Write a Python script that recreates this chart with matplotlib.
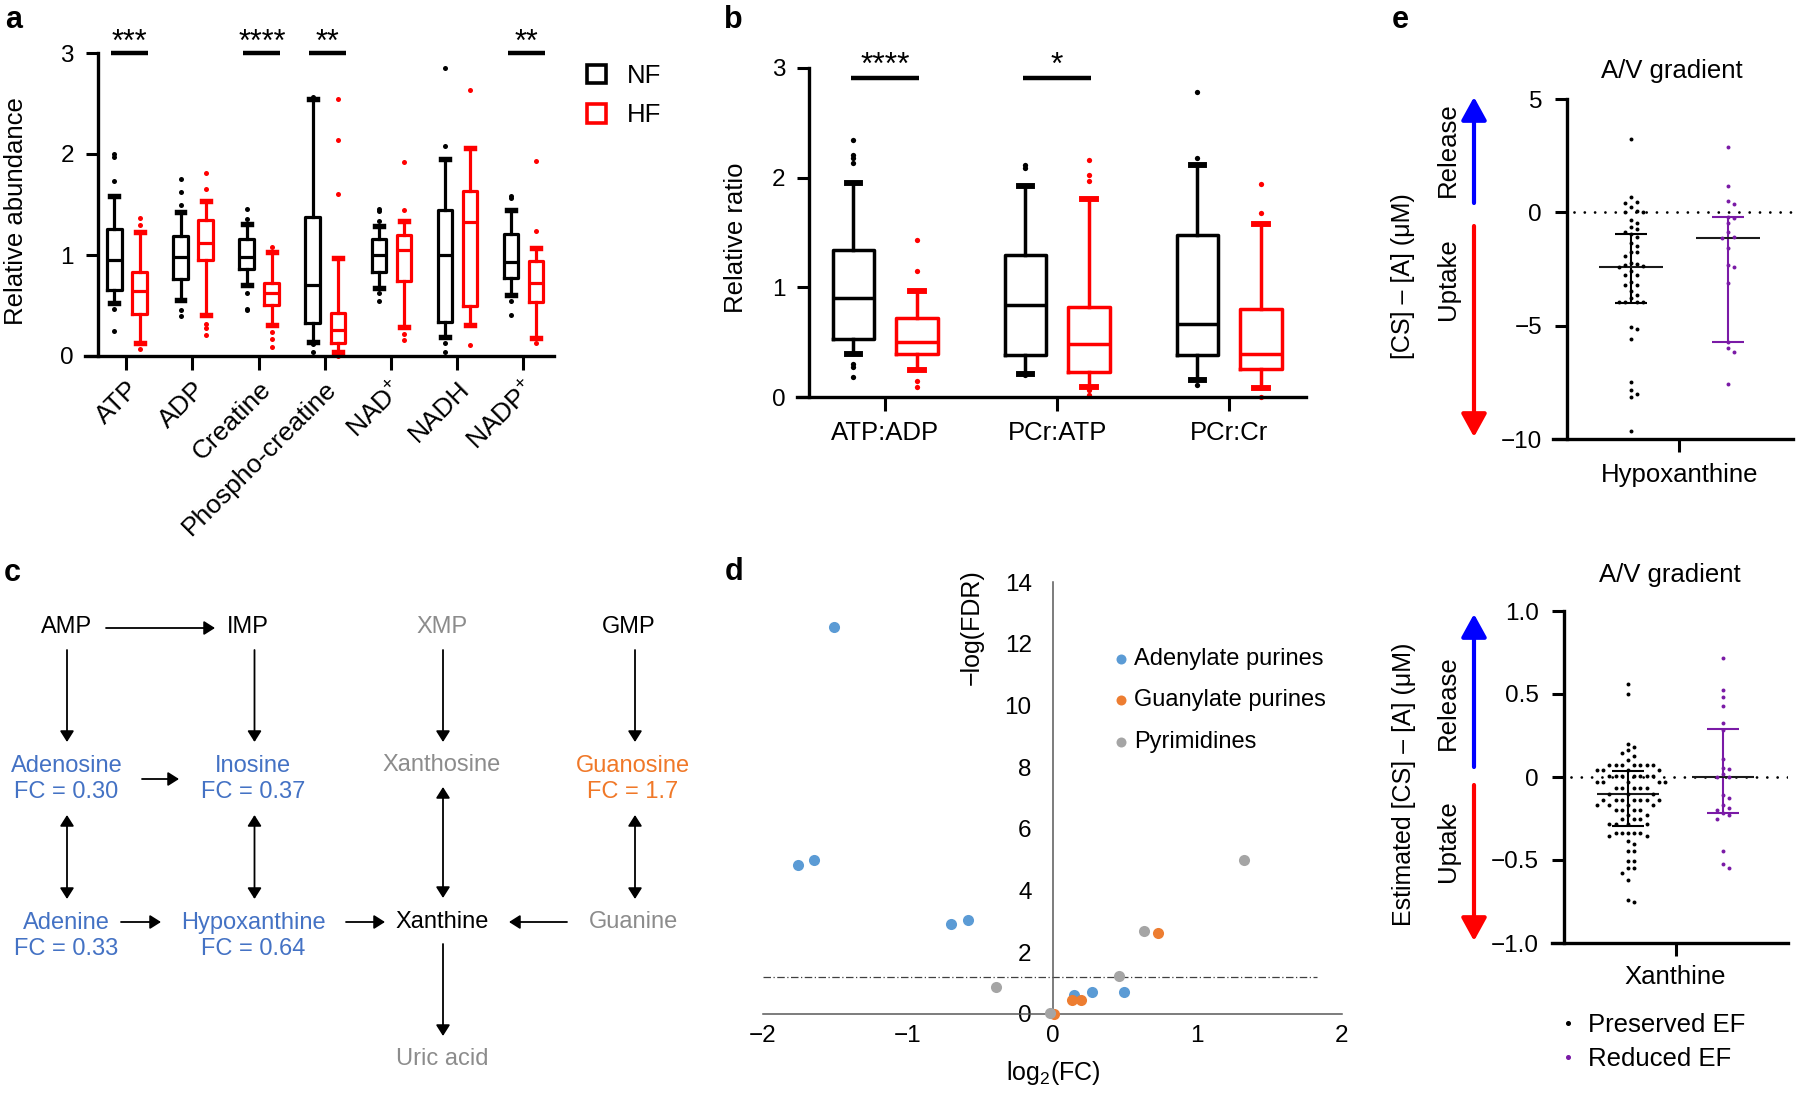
import numpy as np
import matplotlib
matplotlib.use('Agg')
import matplotlib.pyplot as plt
from matplotlib.patches import Patch, FancyArrowPatch
from matplotlib.lines import Line2D

plt.rcParams['font.family'] = ['Liberation Sans', 'DejaVu Sans']
plt.rcParams['mathtext.fontset'] = 'custom'
plt.rcParams['mathtext.rm'] = 'Liberation Sans'
plt.rcParams['mathtext.it'] = 'Liberation Sans:italic'
plt.rcParams['mathtext.bf'] = 'Liberation Sans:bold'
plt.rcParams['font.size'] = 17

# ---------------- data: panel a ----------------
a_labels = ['ATP', 'ADP', 'Creatine', 'Phospho-creatine', 'NAD$^{+}$', 'NADH', 'NADP$^{+}$']
a_nf_lo = [0.52, 0.555, 0.70, 0.14, 0.67, 0.19, 0.60]
a_nf_q1 = [0.654, 0.76, 0.86, 0.33, 0.836, 0.34, 0.776]
a_nf_med = [0.95, 0.98, 0.985, 0.70, 1.0, 1.0, 0.935]
a_nf_q3 = [1.255, 1.19, 1.156, 1.374, 1.156, 1.447, 1.206]
a_nf_hi = [1.58, 1.43, 1.31, 2.54, 1.29, 1.95, 1.447]
a_nf_out = [[2.0, 1.97, 1.73, 0.47, 0.25], [1.75, 1.62, 1.5, 0.456, 0.4],
            [1.46, 1.36, 0.62, 0.47, 0.46], [2.56, 0.125, 0.12, 0.04],
            [1.46, 1.44, 1.34, 0.62, 0.54], [2.85, 2.08, 0.125, 0.04],
            [1.58, 1.56, 0.54, 0.41]]
a_hf_lo = [0.125, 0.406, 0.307, 0.04, 0.29, 0.307, 0.175]
a_hf_q1 = [0.416, 0.95, 0.505, 0.125, 0.743, 0.5, 0.53]
a_hf_med = [0.64, 1.12, 0.62, 0.26, 1.05, 1.33, 0.727]
a_hf_q3 = [0.836, 1.35, 0.727, 0.43, 1.2, 1.63, 0.94]
a_hf_hi = [1.23, 1.53, 1.03, 0.97, 1.34, 2.06, 1.07]
a_hf_out = [[1.37, 1.3, 0.066], [1.81, 1.65, 0.32, 0.275, 0.21],
            [1.08, 0.24, 0.165, 0.09], [2.54, 2.14, 1.6, 0.01, 0.0],
            [1.92, 1.45, 0.22, 0.16], [2.63, 0.11], [1.93, 1.24, 0.125]]
a_sig_idx = [0, 2, 3, 6]
a_sig_txt = ['***', '****', '**', '**']

# ---------------- data: panel b ----------------
b_labels = ['ATP:ADP', 'PCr:ATP', 'PCr:Cr']
b_nf_lo = [0.39, 0.207, 0.152]
b_nf_q1 = [0.533, 0.38, 0.38]
b_nf_med = [0.90, 0.84, 0.664]
b_nf_q3 = [1.34, 1.295, 1.477]
b_nf_hi = [1.95, 1.92, 2.12]
b_nf_out = [[2.34, 2.21, 2.18, 2.13, 0.30, 0.27, 0.18], [2.12, 2.09, 0.2], [2.78, 2.18, 0.107]]
b_hf_lo = [0.244, 0.09, 0.085]
b_hf_q1 = [0.39, 0.228, 0.259]
b_hf_med = [0.50, 0.487, 0.39]
b_hf_q3 = [0.716, 0.82, 0.80]
b_hf_hi = [0.966, 1.81, 1.58]
b_hf_out = [[1.43, 1.15, 0.15, 0.09], [2.16, 2.02, 1.97, 0.067, 0.015], [1.94, 1.68, 0.0]]
b_sig_idx = [0, 1]
b_sig_txt = ['****', '*']

# ---------------- data: panel c ----------------
c_names = ['AMP', 'IMP', 'XMP', 'GMP',
           'Adenosine', 'Inosine', 'Xanthosine', 'Guanosine',
           'Adenine', 'Hypoxanthine', 'Xanthine', 'Guanine', 'Uric acid']
c_fc = ['', '', '', '', '0.30', '0.37', '', '1.7', '0.33', '0.64', '', '', '']
c_kind = ['k', 'k', 'g', 'k', 'b', 'b', 'g', 'o', 'b', 'b', 'k', 'g', 'g']

# ---------------- data: panel d ----------------
d_aden_x = [-1.507, -1.76, -1.65, -0.704, -0.583, 0.149, 0.276, 0.493]
d_aden_y = [12.54, 4.84, 4.98, 2.91, 3.06, 0.62, 0.70, 0.71]
d_guan_x = [0.132, 0.197, 0.732, 0.008]
d_guan_y = [0.45, 0.45, 2.64, 0.0]
d_pyr_x = [-0.39, -0.02, 0.462, 0.634, 1.324]
d_pyr_y = [0.87, 0.03, 1.22, 2.69, 4.98]
d_thresh = 1.2

# ---------------- data: panel e ----------------
hyp_pres = [3.22, 0.66, 0.45, 0.42, 0.22, 0.05, 0.03, 0.02, -0.34, -0.48, -0.66, -0.75,
            -0.88, -0.95, -1.1, -1.37, -1.49, -1.76, -1.76, -1.91, -2.22, -2.28, -2.32,
            -2.38, -2.42, -2.6, -2.76, -2.76, -3.06, -3.2, -3.2, -3.45, -3.65, -3.76,
            -3.94, -3.95, -3.96, -3.97, -5.05, -5.15, -5.58, -7.5, -7.84, -8.0, -8.14, -9.63]
hyp_red = [2.9, 1.16, 0.5, 0.37, -0.2, -0.25, -0.48, -0.88, -1.08, -1.12, -1.57,
           -2.32, -2.39, -3.1, -5.7, -6.0, -6.15, -7.57]
hyp_med = [-2.40, -1.12]
hyp_q1 = [-4.01, -5.71]
hyp_q3 = [-0.96, -0.21]

xan_pres = [0.56, 0.50, 0.20, 0.18, 0.16, 0.144, 0.124, 0.104,
            0.074, 0.074, 0.074, 0.074, 0.074, 0.074, 0.074,
            0.04, 0.04, 0.04, 0.04,
            0.005, 0.005, 0.005, 0.005, 0.005, 0.005, 0.005,
            -0.03, -0.03, -0.03, -0.03, -0.03,
            -0.066, -0.066, -0.066, -0.066, -0.066,
            -0.10, -0.10, -0.10,
            -0.136, -0.136, -0.136, -0.136, -0.136, -0.136, -0.136,
            -0.17, -0.17, -0.17, -0.17,
            -0.196, -0.196, -0.196, -0.196,
            -0.226, -0.226, -0.256, -0.256, -0.256,
            -0.286, -0.286, -0.286, -0.286,
            -0.336, -0.336, -0.336, -0.336, -0.336, -0.356, -0.356,
            -0.386, -0.406, -0.446, -0.446, -0.506, -0.506, -0.546, -0.546,
            -0.576, -0.62, -0.74, -0.75]
xan_red = [0.715, 0.527, 0.483, 0.427, 0.328, 0.286, 0.11, 0.056, 0.05, 0.016, 0.0, 0.0,
           -0.11, -0.129, -0.167, -0.187, -0.197, -0.217, -0.231, -0.25, -0.444, -0.523, -0.55]
xan_med = [-0.10, 0.0]
xan_q1 = [-0.294, -0.215]
xan_q3 = [0.035, 0.288]

# ---------------- figure ----------------
W, H = 1800, 1097
fig = plt.figure(figsize=(W / 100, H / 100), dpi=100)

RED = '#ff0000'
PURPLE = '#7a1aa6'


def px_axes(l, t, r, b):
    return fig.add_axes([l / W, 1 - b / H, (r - l) / W, (b - t) / H])


def ftext(x, y, s, **kw):
    return fig.text(x / W, 1 - y / H, s, **kw)


def make_stats(lo, q1, med, q3, hi, out):
    return [dict(whislo=a, q1=b, med=c, q3=d, whishi=e, fliers=np.array(f))
            for a, b, c, d, e, f in zip(lo, q1, med, q3, hi, out)]


def draw_boxes(ax, stats, pos, color, width, capw, lw, ms):
    art = ax.bxp(stats, positions=pos, widths=width, capwidths=capw, showfliers=True,
                 boxprops=dict(color=color, lw=lw), whiskerprops=dict(color=color, lw=lw),
                 capprops=dict(color=color, lw=lw * 1.7), medianprops=dict(color=color, lw=lw),
                 flierprops=dict(marker='o', markerfacecolor=color, markeredgecolor='none',
                                 markersize=ms), manage_ticks=False)
    for k in art:
        for a in art[k]:
            a.set_clip_on(False)


def prism_axes(ax, spine_frac):
    for s in ['top', 'right']:
        ax.spines[s].set_visible(False)
    ax.spines['left'].set_position(('axes', spine_frac))
    for s in ['left', 'bottom']:
        ax.spines[s].set_linewidth(2.4)
    ax.tick_params(width=2.2, length=9, direction='out')


# ---------------- panel a ----------------
ax_a = px_axes(85, 53, 554, 356)
xa = np.arange(len(a_labels))
draw_boxes(ax_a, make_stats(a_nf_lo, a_nf_q1, a_nf_med, a_nf_q3, a_nf_hi, a_nf_out),
           xa - 0.18, 'k', 0.22, 0.12, 2.3, 3.6)
draw_boxes(ax_a, make_stats(a_hf_lo, a_hf_q1, a_hf_med, a_hf_q3, a_hf_hi, a_hf_out),
           xa + 0.2, RED, 0.22, 0.12, 2.3, 3.6)
ax_a.set_xlim(-0.625, 6.47)
ax_a.set_ylim(0, 3)
prism_axes(ax_a, 12.6 / 469)
ax_a.set_yticks([0, 1, 2, 3])
ax_a.tick_params(axis='y', labelsize=17.5, pad=8)
ax_a.set_xticks(xa)
ax_a.set_xticklabels(a_labels, fontsize=19, rotation=45, ha='right', rotation_mode='anchor')
ax_a.tick_params(axis='x', length=10, pad=5)
for i, t in zip(a_sig_idx, a_sig_txt):
    ax_a.plot([i - 0.23, i + 0.33], [3, 3], color='k', lw=3.2, clip_on=False, solid_capstyle='butt')
    ax_a.text(i + 0.05, 3.02, t, ha='center', va='baseline', fontsize=22, clip_on=False)
ftext(16, 211, 'Relative abundance', rotation=90, ha='center', va='center', fontsize=18.5)
ax_a.legend(handles=[Patch(facecolor='white', edgecolor='k', lw=2.6, label='NF'),
                     Patch(facecolor='white', edgecolor=RED, lw=2.6, label='HF')],
            loc='upper left', bbox_to_anchor=(587 / W, 1 - 64 / H), bbox_transform=fig.transFigure,
            frameon=False, fontsize=18.5, handlelength=0.75, handleheight=0.75,
            handletextpad=0.8, labelspacing=0.6, borderpad=0, borderaxespad=0)

# ---------------- panel b ----------------
ax_b = px_axes(797, 68, 1306, 397)
xb = np.arange(len(b_labels))
draw_boxes(ax_b, make_stats(b_nf_lo, b_nf_q1, b_nf_med, b_nf_q3, b_nf_hi, b_nf_out),
           xb - 0.184, 'k', 0.24, 0.08, 2.5, 3.8)
draw_boxes(ax_b, make_stats(b_hf_lo, b_hf_q1, b_hf_med, b_hf_q3, b_hf_hi, b_hf_out),
           xb + 0.186, RED, 0.24, 0.08, 2.5, 3.8)
ax_b.set_xlim(-0.512, 2.447)
ax_b.set_ylim(0, 3)
prism_axes(ax_b, 11.8 / 509)
ax_b.set_yticks([0, 1, 2, 3])
ax_b.tick_params(axis='y', labelsize=17.5, pad=8)
ax_b.set_xticks(xb)
ax_b.set_xticklabels(b_labels, fontsize=18.5)
ax_b.tick_params(axis='x', length=10, pad=7)
for i, t in zip(b_sig_idx, b_sig_txt):
    ax_b.plot([i - 0.2, i + 0.2], [2.91, 2.91], color='k', lw=3.2, clip_on=False, solid_capstyle='butt')
    ax_b.text(i, 2.95, t, ha='center', va='baseline', fontsize=23, clip_on=False)
ftext(736, 238, 'Relative ratio', rotation=90, ha='center', va='center', fontsize=18.5)

# ---------------- panel c (pathway diagram) ----------------
ax_c = px_axes(0, 540, 700, 1097)
ax_c.set_xlim(0, 700)
ax_c.set_ylim(1097, 540)
ax_c.axis('off')
col_x = [66.5, 253, 442, 633]
row_y = [627, 779, 936, 1059]
node_xy = [(col_x[0], row_y[0]), (col_x[1] - 5, row_y[0]), (col_x[2], row_y[0]), (col_x[3] - 4, row_y[0]),
           (col_x[0], row_y[1]), (col_x[1], row_y[1]), (col_x[2], row_y[1]), (col_x[3], row_y[1]),
           (col_x[0], row_y[2]), (col_x[1], row_y[2]), (col_x[2], row_y[2]), (col_x[3], row_y[2]),
           (col_x[2], row_y[3])]
kind_color = {'k': 'black', 'g': '#8c8c8c', 'b': '#4472c4', 'o': '#f07828'}
for (x, y), name, fc, k in zip(node_xy, c_names, c_fc, c_kind):
    col = kind_color[k]
    if fc:
        ax_c.text(x, y - 13, name, ha='center', va='center', color=col, fontsize=17)
        ax_c.text(x, y + 13, 'FC = ' + fc, ha='center', va='center', color=col, fontsize=17)
    elif y in (row_y[1], row_y[2]):
        ax_c.text(x, y - 14, name, ha='center', va='center', color=col, fontsize=17)
    else:
        ax_c.text(x, y, name, ha='center', va='center', color=col, fontsize=17)


def c_arrow(p0, p1, style='-|>'):
    ax_c.annotate('', xy=p1, xytext=p0,
                  arrowprops=dict(arrowstyle=style + ',head_length=0.6,head_width=0.38',
                                  mutation_scale=11, lw=1.3, color='k', shrinkA=0, shrinkB=0))


arrow_x = [67, 254.5, 443, 635]
c_arrow((106, 628), (215, 628))
for x in arrow_x:
    c_arrow((x, 650), (x, 742))
c_arrow((142, 779), (179, 779))
for x in [arrow_x[0], arrow_x[1], arrow_x[3]]:
    c_arrow((x, 815), (x, 899), '<|-|>')
c_arrow((arrow_x[2], 787), (arrow_x[2], 898), '<|-|>')
c_arrow((121, 922), (161, 922))
c_arrow((346, 922), (385, 922))
c_arrow((567, 922), (509, 922))
c_arrow((arrow_x[2], 944), (arrow_x[2], 1036))

# ---------------- panel d (volcano) ----------------
ax_d = px_axes(763, 582, 1342, 1014)
ax_d.scatter(d_aden_x, d_aden_y, s=64, color='#5b9bd5', lw=0, clip_on=False, zorder=3,
             label='Adenylate purines')
ax_d.scatter(d_guan_x, d_guan_y, s=64, color='#ed7d31', lw=0, clip_on=False, zorder=3,
             label='Guanylate purines')
ax_d.scatter(d_pyr_x, d_pyr_y, s=64, color='#a5a5a5', lw=0, clip_on=False, zorder=3,
             label='Pyrimidines')
ax_d.plot([-2, 1.83], [d_thresh, d_thresh], color='#404040', lw=0.9, ls=(0, (6, 2, 1, 2)))
ax_d.set_xlim(-2, 2)
ax_d.set_ylim(0, 14)
for s in ['top', 'right']:
    ax_d.spines[s].set_visible(False)
ax_d.spines['left'].set_position(('data', 0))
for s in ['left', 'bottom']:
    ax_d.spines[s].set_color('#595959')
    ax_d.spines[s].set_linewidth(1.1)
ax_d.set_yticks(np.arange(0, 15, 2))
ax_d.set_xticks([-2, -1, 0, 1, 2])
ax_d.tick_params(axis='y', length=0, pad=15, labelsize=17.5)
ax_d.tick_params(axis='x', length=0, pad=8, labelsize=17.5)
ftext(972, 627, '\u2212log(FDR)', rotation=90, ha='center', va='center', fontsize=18)
ftext(1053, 1073, 'log$_2$(FC)', ha='center', va='center', fontsize=18)
ax_d.legend(loc='upper left', bbox_to_anchor=(1112 / W, 1 - 648 / H), bbox_transform=fig.transFigure,
            frameon=False, fontsize=17, handlelength=0.8, handletextpad=0.15,
            labelspacing=0.82, borderpad=0, borderaxespad=0, markerscale=0.9)


# ---------------- panel e ----------------
def swarm_offsets(vals, xpx, ypx, d=6.0):
    vals = np.asarray(vals, float)
    order = np.argsort(-vals)
    placed = []
    offs = np.zeros(len(vals))
    for i in order:
        y = vals[i] * ypx
        k = 0
        while True:
            cand = ((k + 1) // 2) * d * (1 if k % 2 == 1 else -1)
            if all((cand - px) ** 2 + (y - py) ** 2 >= (0.97 * d) ** 2 for px, py in placed):
                break
            k += 1
        placed.append((cand, y))
        offs[i] = cand / xpx
    return offs


def e_panel(ax, groups, med, q1, q3, xpx, ypx, spine_frac, d):
    colors = ['k', PURPLE]
    ax.axhline(0, xmin=spine_frac + 0.03, xmax=1, color='k', lw=2.0,
               ls=(0, (0.01, 3.7)), dash_capstyle='round', zorder=1)
    for p, vals in enumerate(groups):
        c = colors[p]
        ax.vlines(p, q1[p], q3[p], color=c, lw=1.5, zorder=2)
        ax.hlines([q1[p], q3[p]], p - 0.165, p + 0.165, color=c, lw=1.5, zorder=2)
        ax.hlines(med[p], p - 0.33, p + 0.33, color='#1a1a1a', lw=1.5, zorder=2)
        ax.scatter(p + swarm_offsets(vals, xpx, ypx, d), vals, s=8, color=c, lw=0,
                   zorder=3, clip_on=False)
    prism_axes(ax, spine_frac)
    ax.tick_params(axis='x', length=9, pad=8, labelsize=18.5)
    ax.tick_params(axis='y', length=9, pad=9, labelsize=17.5)


ax_e1 = px_axes(1553, 99, 1793, 439)
e_panel(ax_e1, [hyp_pres, hyp_red], hyp_med, hyp_q1, hyp_q3, 97, 22.67, 14 / 240, 6.2)
ax_e1.set_xlim(-0.804, 1.67)
ax_e1.set_ylim(-10, 5)
ax_e1.set_yticks([-10, -5, 0, 5])
ax_e1.set_xticks([0.5])
ax_e1.set_xticklabels(['Hypoxanthine'])

ax_e2 = px_axes(1552, 611, 1788, 943)
e_panel(ax_e2, [xan_pres, xan_red], xan_med, xan_q1, xan_q3, 95, 166, 12 / 236, 6.2)
ax_e2.set_xlim(-0.8, 1.684)
ax_e2.set_ylim(-1, 1)
ax_e2.set_yticks([-1.0, -0.5, 0, 0.5, 1.0])
ax_e2.set_yticklabels(['\u22121.0', '\u22120.5', '0', '0.5', '1.0'])
ax_e2.set_xticks([0.5])
ax_e2.set_xticklabels(['Xanthine'])
ax_e2.tick_params(axis='x', pad=7)

ftext(1672, 71, 'A/V gradient', ha='center', va='center', fontsize=18.5)
ftext(1670, 575, 'A/V gradient', ha='center', va='center', fontsize=18.5)
ftext(1403, 276, '[CS] \u2013 [A] (\u03bcM)', rotation=90, ha='center', va='center', fontsize=18)
ftext(1404, 784, 'Estimated [CS] \u2013 [A] (\u03bcM)', rotation=90, ha='center', va='center', fontsize=18)
for yc, s in [(150, 'Release'), (279, 'Uptake'), (703, 'Release'), (841, 'Uptake')]:
    ftext(1448, yc, s, rotation=90, ha='center', va='center', fontsize=18.5)


def big_arrow(y0, y1, color):
    fig.add_artist(FancyArrowPatch((1474 / W, 1 - y0 / H), (1474 / W, 1 - y1 / H),
                                   transform=fig.transFigure,
                                   arrowstyle='-|>,head_length=1.0,head_width=0.55',
                                   mutation_scale=14, lw=3, color=color,
                                   shrinkA=0, shrinkB=0))


big_arrow(203, 97, '#0000ff')
big_arrow(226, 437, RED)
big_arrow(767, 614, '#0000ff')
big_arrow(785, 941, RED)

ax_e2.legend(handles=[Line2D([], [], marker='o', ls='', color='k', ms=2.6, label='Preserved EF'),
                      Line2D([], [], marker='o', ls='', color=PURPLE, ms=2.6, label='Reduced EF')],
             loc='upper left', bbox_to_anchor=(1560 / W, 1 - 1013 / H), bbox_transform=fig.transFigure,
             frameon=False, fontsize=18.5, handlelength=0.6, handletextpad=0.5,
             labelspacing=0.38, borderpad=0, borderaxespad=0)

# ---------------- panel letters ----------------
for x, y, s in [(5, 28, 'a'), (724, 28, 'b'), (4, 581, 'c'), (725, 580, 'd'), (1392, 28, 'e')]:
    ftext(x, y, s, ha='left', va='baseline', fontsize=22, weight='bold')

fig.savefig('out.png', dpi=100)
